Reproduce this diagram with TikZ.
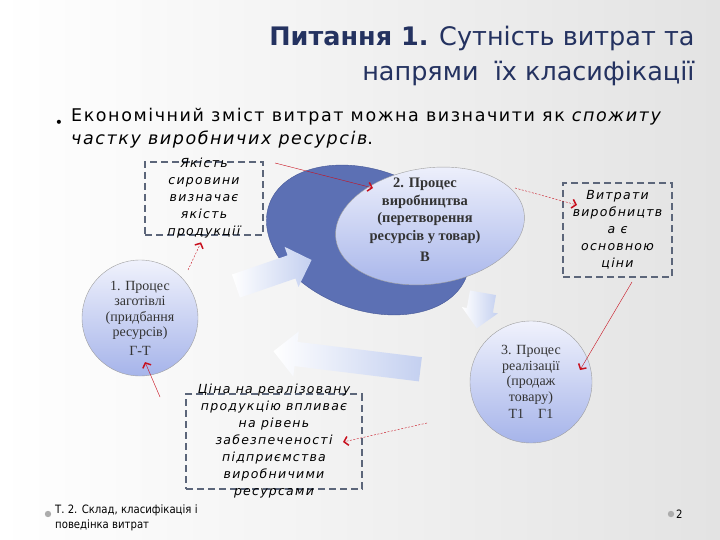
\documentclass[tikz,border=0pt]{standalone}
\usepackage{fontspec}
\setmainfont{DejaVu Sans}
\newfontfamily\bodyfont[LetterSpace=9]{DejaVu Sans}
\newfontfamily\notefont[LetterSpace=10]{DejaVu Sans}
\newfontfamily\footfont[FakeStretch=0.88]{DejaVu Sans}
\newfontfamily\procfont{Liberation Serif}
\usetikzlibrary{shapes.geometric,shapes.arrows,arrows.meta}
\definecolor{titleblue}{RGB}{36,50,96}
\definecolor{cycleblue}{RGB}{92,112,180}
\definecolor{cycleedge}{RGB}{70,88,150}
\definecolor{proctop}{RGB}{240,242,252}
\definecolor{procbottom}{RGB}{166,180,234}
\definecolor{flowblue}{RGB}{196,208,240}
\definecolor{notegray}{RGB}{92,102,122}
\definecolor{linkred}{RGB}{200,16,30}

\begin{document}
\begin{tikzpicture}[x=1pt,y=-1pt]
	\tikzstyle{Proc} = [circle, draw=gray!75, thin, top color=proctop, bottom color=procbottom, inner sep=0pt, align=center, text=black!80, font=\procfont\fontsize{14}{15.5}\selectfont]
	\tikzstyle{Flow} = [single arrow, draw=none, inner xsep=0pt, left color=white, right color=flowblue]
	\tikzstyle{Note} = [rectangle, draw=notegray, line width=2pt, dash pattern=on 7pt off 4pt, align=center, font=\notefont\itshape\fontsize{12.5}{17}\selectfont]
	\tikzstyle{link} = [thin, linkred, -{Straight Barb[length=4pt, width=9pt, line width=1.5pt]}]
	\tikzstyle{dotlink} = [link, dash pattern=on 2pt off 1.5pt]

	\useasboundingbox (0,0) rectangle (720,540);
	\shade [left color=white, right color=black!11] (0,0) rectangle (720,540);

	\node (title) [anchor=north east, align=right, text=titleblue, font=\fontsize{25.5}{35}\selectfont] at (698,23) {\textbf{Питання 1.} Сутність витрат та\\напрями~ їх класифікації};
	\node (dot) [font=\fontsize{14}{14}\selectfont] at (59,124) {•};
	\node (lead) [anchor=north west, align=left, inner sep=0pt, font=\bodyfont\fontsize{17.5}{23}\selectfont] at (71,108) {Економічний зміст витрат можна визначити як \textit{спожиту}\\\textit{частку виробничих ресурсів}.};

	\node (cycle) [ellipse, fill=cycleblue, draw=cycleedge, minimum width=210, minimum height=140, rotate=-20] at (368,240) {};
	\node (prod) [Proc, ellipse, minimum width=190, minimum height=116, rotate=8] at (430,226) {};
	\node (prodtxt) [align=center, font=\procfont\bfseries\fontsize{14.5}{17.5}\selectfont, text=black!80] at (425,220) {2. Процес\\виробництва\\(перетворення\\ресурсів у товар)\\[4pt]В};

	\node (flowa) [Flow, minimum height=80, inner ysep=12pt, single arrow head extend=9pt, rotate=19] at (268,275) {};
	\node (flowb) [Flow, minimum height=36, inner ysep=13pt, single arrow head extend=5pt, rotate=-100] at (481,304) {};
	\node (flowc) [Flow, minimum height=148, inner ysep=12pt, single arrow head extend=10.5pt, rotate=173] at (353,361) {};

	\node (buy) [Proc, minimum size=116] at (140,318) {1. Процес\\заготівлі\\(придбання\\ресурсів)\\[3pt]Г-Т};
	\node (sell) [Proc, minimum size=122] at (531,382) {3. Процес\\реалізації\\(продаж\\товару)\\[2pt]Т1\quad Г1};

	\node (q1) [Note, minimum width=118, minimum height=73, inner ysep=-8pt] at (204,198.5) {Якість\\сировини\\визначає\\якість\\продукції};
	\node (q2) [Note, minimum width=109, minimum height=94] at (617.5,230) {Витрати\\виробництв\\а є\\основною\\ціни};
	\node (q3) [Note, minimum width=176, minimum height=93, inner ysep=-10pt] at (274,441.5) {Ціна на реалізовану\\продукцію впливає\\на рівень\\забезпеченості\\підприємства\\виробничими\\ресурсами};

	\coordinate (r1a) at (275,163);
	\coordinate (r1b) at (373,188);
	\coordinate (r2a) at (188,270);
	\coordinate (r3a) at (515,188);
	\coordinate (r3b) at (577,205);
	\coordinate (r4a) at (632,282);
	\coordinate (r4b) at (580,370);
	\coordinate (r5a) at (427,423);
	\coordinate (r5b) at (343,442);
	\coordinate (r6a) at (160,397);
	\coordinate (r6b) at (145,362);
	\draw [link] (r1a) -- (r1b);
	\draw [dotlink, shorten >=7pt] (r2a) -- (q1.south);
	\draw [dotlink] (r3a) -- (r3b);
	\draw [link] (r4a) -- (r4b);
	\draw [dotlink] (r5a) -- (r5b);
	\draw [link] (r6a) -- (r6b);

	\fill [gray!65] (48,514) circle (3.2);
	\fill [gray!65] (671,514) circle (3.2);
	\node (foot) [anchor=north west, align=left, inner sep=0pt, font=\footfont\fontsize{11.5}{15}\selectfont] at (55,505) {Т. 2. Склад, класифікація і\\поведінка витрат};
	\node (page) [anchor=west, inner sep=0pt, font=\footfont\fontsize{11.5}{15}\selectfont] at (676,514) {2};
\end{tikzpicture}
\end{document}
